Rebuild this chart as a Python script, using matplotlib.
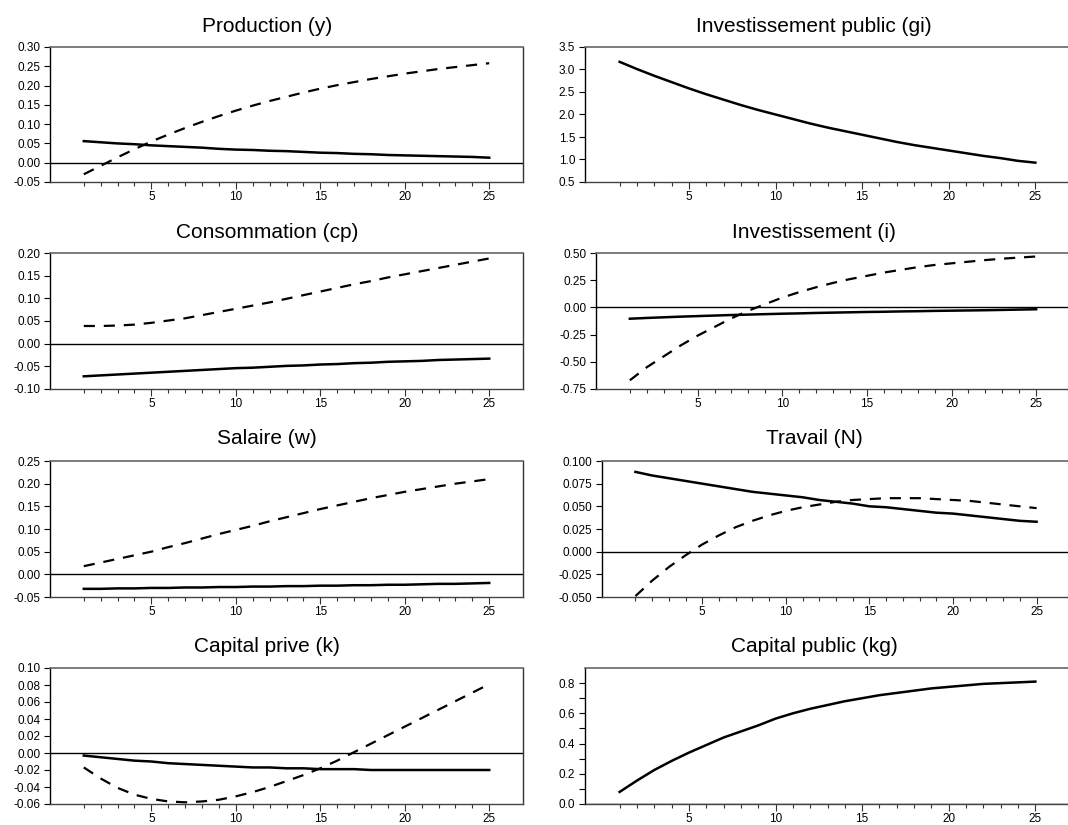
import matplotlib
matplotlib.use("Agg")
import matplotlib.pyplot as plt
from matplotlib.ticker import FixedLocator, FormatStrFormatter, NullFormatter

plt.rcParams['font.family'] = ['Liberation Sans', 'DejaVu Sans']

periods = list(range(1, 26))

titles = ["Production (y)", "Investissement public (gi)",
          "Consommation (cp)", "Investissement (i)",
          "Salaire (w)", "Travail (N)",
          "Capital prive (k)", "Capital public (kg)"]

y_solid = [0.056, 0.053, 0.050, 0.048, 0.045, 0.043, 0.041, 0.039, 0.036, 0.034, 0.033, 0.031, 0.030,
           0.028, 0.026, 0.025, 0.023, 0.022, 0.020, 0.019, 0.018, 0.017, 0.016, 0.015, 0.013]
y_dash = [-0.030, -0.008, 0.014, 0.035, 0.055, 0.073, 0.090, 0.106, 0.121, 0.135, 0.148, 0.160, 0.171,
          0.182, 0.192, 0.201, 0.209, 0.217, 0.224, 0.231, 0.237, 0.243, 0.248, 0.253, 0.258]

gi_solid = [3.17, 3.01, 2.86, 2.72, 2.58, 2.45, 2.33, 2.21, 2.10, 2.00, 1.90, 1.80, 1.71,
            1.63, 1.55, 1.47, 1.39, 1.32, 1.26, 1.20, 1.14, 1.08, 1.03, 0.97, 0.93]

cp_solid = [-0.072, -0.070, -0.068, -0.066, -0.064, -0.062, -0.060, -0.058, -0.056, -0.054, -0.053,
            -0.051, -0.049, -0.048, -0.046, -0.045, -0.043, -0.042, -0.040, -0.039, -0.038, -0.036,
            -0.035, -0.034, -0.033]
cp_dash = [0.039, 0.039, 0.040, 0.042, 0.046, 0.051, 0.056, 0.063, 0.070, 0.077, 0.084, 0.091, 0.099,
           0.107, 0.115, 0.123, 0.131, 0.138, 0.146, 0.153, 0.160, 0.167, 0.174, 0.181, 0.188]

i_solid = [-0.104, -0.097, -0.091, -0.085, -0.080, -0.075, -0.070, -0.066, -0.062, -0.058, -0.055,
           -0.051, -0.048, -0.045, -0.042, -0.040, -0.037, -0.035, -0.032, -0.030, -0.028, -0.026,
           -0.023, -0.020, -0.017]
i_dash = [-0.67, -0.55, -0.45, -0.35, -0.26, -0.18, -0.10, -0.03, 0.03, 0.09, 0.14, 0.185, 0.225,
          0.26, 0.29, 0.32, 0.345, 0.37, 0.39, 0.405, 0.42, 0.435, 0.448, 0.458, 0.468]

w_solid = [-0.032, -0.032, -0.031, -0.031, -0.030, -0.030, -0.029, -0.029, -0.028, -0.028, -0.027,
           -0.027, -0.026, -0.026, -0.025, -0.025, -0.024, -0.024, -0.023, -0.023, -0.022, -0.021,
           -0.021, -0.020, -0.019]
w_dash = [0.018, 0.026, 0.034, 0.042, 0.050, 0.060, 0.069, 0.079, 0.089, 0.098, 0.107, 0.117, 0.126,
          0.135, 0.144, 0.152, 0.160, 0.168, 0.175, 0.182, 0.188, 0.194, 0.200, 0.205, 0.210]

n_solid = [0.088, 0.084, 0.081, 0.078, 0.075, 0.072, 0.069, 0.066, 0.064, 0.062, 0.060, 0.057, 0.055,
           0.053, 0.050, 0.049, 0.047, 0.045, 0.043, 0.042, 0.040, 0.038, 0.036, 0.034, 0.033]
n_dash = [-0.049, -0.032, -0.017, -0.004, 0.008, 0.018, 0.027, 0.034, 0.040, 0.045, 0.049, 0.052, 0.055,
          0.057, 0.058, 0.059, 0.059, 0.059, 0.058, 0.057, 0.056, 0.054, 0.052, 0.050, 0.048]

k_solid = [-0.003, -0.005, -0.007, -0.009, -0.010, -0.012, -0.013, -0.014, -0.015, -0.016, -0.017,
           -0.017, -0.018, -0.018, -0.019, -0.019, -0.019, -0.020, -0.020, -0.020, -0.020, -0.020,
           -0.020, -0.020, -0.020]
k_dash = [-0.017, -0.030, -0.041, -0.049, -0.054, -0.057, -0.058, -0.057, -0.055, -0.051, -0.046,
          -0.040, -0.033, -0.026, -0.018, -0.009, 0.001, 0.011, 0.021, 0.031, 0.041, 0.051, 0.061,
          0.071, 0.081]

kg_solid = [0.08, 0.155, 0.225, 0.285, 0.34, 0.39, 0.44, 0.48, 0.52, 0.565, 0.60, 0.63, 0.655,
            0.68, 0.70, 0.72, 0.735, 0.75, 0.765, 0.775, 0.785, 0.795, 0.80, 0.805, 0.81]

solid_series = [y_solid, gi_solid, cp_solid, i_solid, w_solid, n_solid, k_solid, kg_solid]
dash_series = [y_dash, None, cp_dash, i_dash, w_dash, n_dash, k_dash, None]

y_limits = [(-0.05, 0.30), (0.5, 3.5), (-0.10, 0.20), (-0.75, 0.50),
            (-0.05, 0.25), (-0.050, 0.100), (-0.06, 0.10), (0.0, 0.9)]
y_steps = [0.05, 0.5, 0.05, 0.25, 0.05, 0.025, 0.02, 0.2]
y_fmts = ['%.2f', '%.1f', '%.2f', '%.2f', '%.2f', '%.3f', '%.2f', '%.1f']

W, H = 1068, 825
fig = plt.figure(figsize=(W / 100, H / 100), dpi=100)

rows = [(47, 182), (253, 389), (461, 597), (668, 804)]
lefts_left = [50, 50, 50, 50]
lefts_right = [585, 596, 602, 585]
right_left, right_right = 523, 1070
title_y = [27, 232, 438, 646]
title_x = [267, 814]

for idx in range(8):
    r, c = divmod(idx, 2)
    top, bot = rows[r]
    if c == 0:
        l, rr = lefts_left[r], right_left
    else:
        l, rr = lefts_right[r], right_right
    ax = fig.add_axes([l / W, 1 - bot / H, (rr - l) / W, (bot - top) / H])
    ax.set_xlim(-1, 27)
    lo, hi = y_limits[idx]
    ax.set_ylim(lo, hi)
    ax.axhline(0, color='black', lw=1.0, zorder=1)
    if dash_series[idx] is not None:
        ax.plot(periods, dash_series[idx], color='black', lw=1.6, ls=(0, (5, 4)), zorder=3)
    ax.plot(periods, solid_series[idx], color='black', lw=1.8, zorder=3)

    step = y_steps[idx]
    n = int(round((hi - lo) / step))
    yt = [lo + k * step for k in range(n + 1)]
    yt = [v for v in yt if v <= hi + 1e-9]
    ax.yaxis.set_major_locator(FixedLocator(yt))
    ax.yaxis.set_major_formatter(FormatStrFormatter(y_fmts[idx]))
    if idx == 7:
        ax.yaxis.set_minor_locator(FixedLocator([0.1, 0.3, 0.5, 0.7]))
        ax.tick_params(axis='y', which='minor', length=4, width=0.8, direction='out')

    ax.xaxis.set_major_locator(FixedLocator([5, 10, 15, 20, 25]))
    ax.xaxis.set_minor_locator(FixedLocator([p for p in periods if p % 5 != 0]))
    ax.xaxis.set_minor_formatter(NullFormatter())
    ax.tick_params(axis='x', which='major', length=5, width=0.8, direction='out',
                   labelsize=8.5, pad=1.5, color='#333333')
    ax.tick_params(axis='x', which='minor', length=3, width=0.8, direction='out', color='#333333')
    ax.tick_params(axis='y', which='major', length=4, width=0.8, direction='out',
                   labelsize=8.5, pad=3)

    ax.spines['left'].set_color('black')
    ax.spines['left'].set_linewidth(1.0)
    ax.spines['bottom'].set_color('#444444')
    ax.spines['bottom'].set_linewidth(1.0)
    ax.spines['top'].set_color('#666666')
    ax.spines['top'].set_linewidth(1.2)
    ax.spines['right'].set_color('#333333')
    ax.spines['right'].set_linewidth(1.0)

    fig.text(title_x[c] / W, 1 - title_y[r] / H, titles[idx], fontsize=15,
             ha='center', va='center')

fig.savefig("out.png", dpi=100)
